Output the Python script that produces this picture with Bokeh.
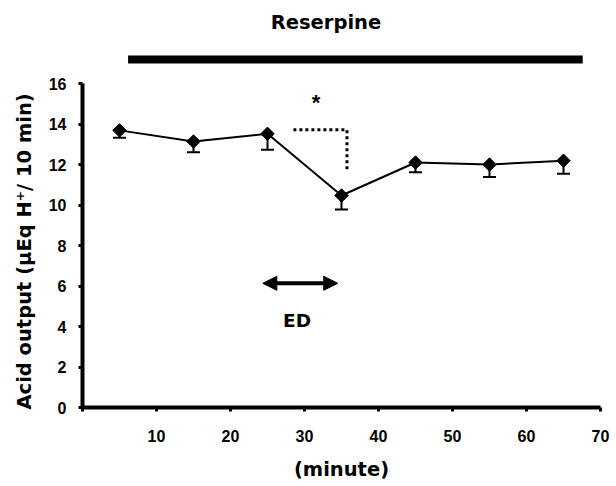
import math
from bokeh.plotting import figure
from bokeh.models import (Range1d, FixedTicker, Arrow, NormalHead, ColumnDataSource, Title)
from bokeh.core.properties import value
from bokeh.embed import file_html
from bokeh.resources import INLINE

# ---- data ----
minutes = [5, 15, 25, 35, 45, 55, 65]
acid = [13.70, 13.15, 13.53, 10.48, 12.11, 12.01, 12.20]
sem = [0.36, 0.53, 0.79, 0.69, 0.48, 0.62, 0.65]
x_ticks = [0, 10, 20, 30, 40, 50, 60, 70]
y_ticks = [0, 2, 4, 6, 8, 10, 12, 14, 16]
reserpine_span = [6.16, 67.6]
ed_span = [24.37, 34.49]
sig_bracket_x = [28.5, 35.74, 35.74]
sig_bracket_y = [13.73, 13.73, 11.63]
y_title = "Acid output (µEq H⁺/ 10 min)"
x_title = "(minute)"

NUM_FONT = "Liberation Sans"
WORD_FONT = "DejaVu Sans"

p = figure(width=616, height=486, output_backend="svg", toolbar_location=None,
           x_range=Range1d(0, 70), y_range=Range1d(0, 20.12),
           min_border_left=81, min_border_right=16, min_border_top=0,
           min_border_bottom=79)
p.outline_line_color = None
p.grid.grid_line_color = None
p.background_fill_color = "white"

for ax in (p.xaxis[0], p.yaxis[0]):
    ax.axis_line_width = 4
    ax.axis_line_color = "black"
    ax.major_tick_line_width = 3
    ax.major_tick_in = 0
    ax.major_tick_out = 4
    ax.minor_tick_line_color = None
    ax.major_label_text_font = NUM_FONT
    ax.major_label_text_font_style = "bold"
    ax.major_label_text_font_size = "16px"
    ax.major_label_text_color = "black"
    ax.axis_label_text_font = WORD_FONT
    ax.axis_label_text_font_style = "bold"
    ax.axis_label_text_font_size = "19.5px"
    ax.axis_label_text_color = "black"

p.xaxis.bounds = (0, 70)
p.yaxis.bounds = (0, 16)
p.xaxis.ticker = FixedTicker(ticks=x_ticks)
p.yaxis.ticker = FixedTicker(ticks=y_ticks)
p.xaxis.major_label_overrides = {0: ""}
p.xaxis.major_label_standoff = 18
p.yaxis.major_label_standoff = 12
p.xaxis.axis_label = x_title
p.xaxis.axis_label_standoff = 13

# y-axis title, starting at the bottom of the axis span
p.add_layout(Title(text=y_title, align="left", offset=-2, standoff=20,
                   text_font=WORD_FONT, text_font_style="bold", text_font_size="19.5px",
                   text_color="black"), "left")

# error bars (lower only)
lower = [a - s for a, s in zip(acid, sem)]
src = ColumnDataSource(dict(x=minutes, y=acid, lo=lower))
p.segment(x0="x", y0="y", x1="x", y1="lo", source=src, line_width=2, line_color="black")
p.scatter(x="x", y="lo", source=src, marker="dash", size=13, line_width=2, line_color="black")

# line + markers
p.line(x="x", y="y", source=src, line_width=2, line_color="black")
p.scatter(x="x", y="y", source=src, marker="square", angle=math.pi / 4, size=9.5,
          fill_color="black", line_color="black")

# significance bracket
p.line(x=sig_bracket_x, y=sig_bracket_y, line_width=3, line_dash="3 3", line_color="black")
p.text(x=[31.56], y=[15.09], text=["*"], text_font=value(NUM_FONT), text_font_style="bold",
       text_font_size="22px", text_align="center", text_baseline="middle")

# reserpine bar
p.segment(x0=[reserpine_span[0]], x1=[reserpine_span[1]], y0=[17.2], y1=[17.2],
          line_width=8, line_color="black", line_cap="butt")
p.text(x=[32.9], y=[19.03], text=["Reserpine"], text_font=value(WORD_FONT),
       text_font_style="bold", text_font_size="19.5px", text_align="center",
       text_baseline="middle")

# ED arrow
p.add_layout(Arrow(x_start=ed_span[0], x_end=ed_span[1], y_start=6.14, y_end=6.14,
                   line_width=4, line_color="black",
                   start=NormalHead(size=14, fill_color="black", line_color="black"),
                   end=NormalHead(size=14, fill_color="black", line_color="black")))
p.text(x=[29.0], y=[4.3], text=["ED"], text_font=value(WORD_FONT), text_font_style="bold",
       text_font_size="18.5px", text_align="center", text_baseline="middle")

open("out.html", "w").write(file_html(p, INLINE))
